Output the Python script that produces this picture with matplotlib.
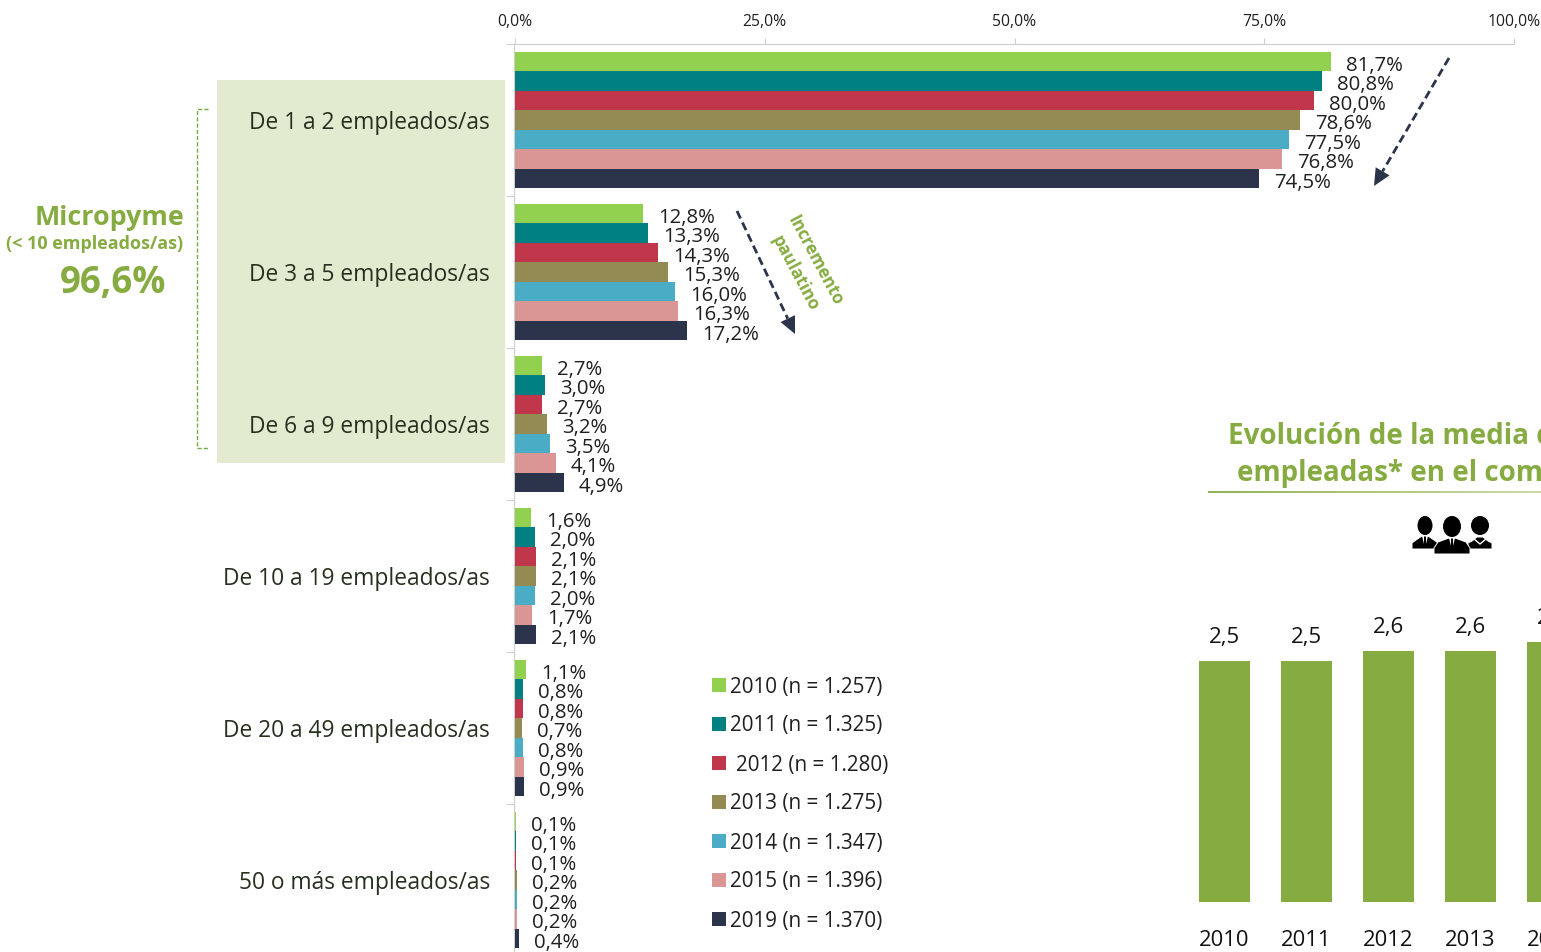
import matplotlib
matplotlib.use("Agg")
import matplotlib.pyplot as plt
from matplotlib.patches import Rectangle, Ellipse, Polygon
from matplotlib.collections import LineCollection
from matplotlib.colors import to_rgb
import numpy as np

plt.rcParams['font.family'] = ['Open Sans', 'DejaVu Sans']

W, H = 1541, 952
categories = ["De 1 a 2 empleados/as", "De 3 a 5 empleados/as", "De 6 a 9 empleados/as",
              "De 10 a 19 empleados/as", "De 20 a 49 empleados/as", "50 o más empleados/as"]
years = ["2010", "2011", "2012", "2013", "2014", "2015", "2019"]
sample_labels = ["2010 (n = 1.257)", "2011 (n = 1.325)", "2012 (n = 1.280)", "2013 (n = 1.275)",
                 "2014 (n = 1.347)", "2015 (n = 1.396)", "2019 (n = 1.370)"]
v2010 = [81.7, 12.8, 2.7, 1.6, 1.1, 0.1]
v2011 = [80.8, 13.3, 3.0, 2.0, 0.8, 0.1]
v2012 = [80.0, 14.3, 2.7, 2.1, 0.8, 0.1]
v2013 = [78.6, 15.3, 3.2, 2.1, 0.7, 0.2]
v2014 = [77.5, 16.0, 3.5, 2.0, 0.8, 0.2]
v2015 = [76.8, 16.3, 4.1, 1.7, 0.9, 0.2]
v2019 = [74.5, 17.2, 4.9, 2.1, 0.9, 0.4]
series = [v2010, v2011, v2012, v2013, v2014, v2015, v2019]
colors = ["#92D050", "#008080", "#C0364B", "#948A54", "#4BACC6", "#D99694", "#2B344A"]
mean_years = ["2010", "2011", "2012", "2013", "2014"]
mean_values = [2.5, 2.5, 2.6, 2.6, 2.7]

GREEN = "#86AC41"
TEXT = "#1F1F1F"

fig = plt.figure(figsize=(W / 100, H / 100), dpi=100, facecolor="white")

def axes_px(x0, y0, x1, y1, **kw):
    return fig.add_axes([x0 / W, 1 - y1 / H, (x1 - x0) / W, (y1 - y0) / H], **kw)

# pixel-space overlay for annotations
ov = axes_px(0, 0, W, H, zorder=0)
ov.set_xlim(0, W); ov.set_ylim(H, 0); ov.axis("off")

# main chart
ax = axes_px(515, 44, 1514, H, zorder=1)
ax.patch.set_visible(False)
ax.spines["left"].set_position(("outward", 0.5))
band = 152.0
step = 19.55 / band
for j, (vals, c) in enumerate(zip(series, colors)):
    ys = np.arange(len(categories)) + 0.5 + (j - 3) * step
    ax.barh(ys, vals, height=step, color=c, linewidth=0, zorder=3)
    for y, v in zip(ys, vals):
        ax.annotate(f"{v:.1f}%".replace(".", ","), (v, y), xytext=(10.9, -3),
                    textcoords="offset points", va="center", ha="left",
                    fontsize=14.7, color=TEXT, annotation_clip=False)

ax.xaxis.tick_top()
ax.set_xticks([0, 25, 50, 75, 100])
ax.set_xticklabels(["0,0%", "25,0%", "50,0%", "75,0%", "100,0%"], fontsize=11.3, color=TEXT)
ax.tick_params(axis="x", length=4, color="#CFCFCF", pad=6.3)
ax.set_yticks(np.arange(0, 6))
ax.set_yticklabels([])
ax.tick_params(axis="y", which="major", length=6, color="#CFCFCF")
ax.set_yticks(np.arange(len(categories)) + 0.5, minor=True)
ax.set_yticklabels(categories, minor=True, fontsize=16.4, color="#27301F")
ax.tick_params(axis="y", which="minor", length=0, pad=17.5)
ax.set_xlim(0, 100)
ax.set_ylim((H - 44) / band, 0)
for s in ("right", "bottom"):
    ax.spines[s].set_visible(False)
for s in ("left", "top"):
    ax.spines[s].set_color("#CFCFCF")

# micropyme highlight
ov.add_patch(Rectangle((217, 80), 288, 383, facecolor="#E2EACF", edgecolor="none"))
ov.plot([208, 197, 197, 209], [109, 109, 448, 448], color="#70AD47", lw=1, ls=(0, (3, 1.5)))
ov.text(184, 215, "Micropyme", ha="right", va="center_baseline", fontsize=19.4, fontweight="bold", color=GREEN)
ov.text(183, 242, "(< 10 empleados/as)", ha="right", va="center_baseline", fontsize=13, fontweight="bold", color=GREEN)
ov.text(113, 278, "96,6%", ha="center", va="center_baseline", fontsize=26.5, fontweight="bold", color=GREEN)

# trend arrows
def trend_arrow(start, tip, head_len=17, head_w=16):
    a, b = np.array(start, float), np.array(tip, float)
    d = (b - a) / np.hypot(*(b - a))
    n = np.array([-d[1], d[0]])
    base = b - d * head_len
    ov.plot([a[0], base[0]], [a[1], base[1]], color="#2B344A", lw=2, ls=(0, (3, 1.6)))
    ov.add_patch(Polygon([b, base + n * head_w / 2, base - n * head_w / 2], facecolor="#2B344A", edgecolor="none"))
trend_arrow((1449, 58), (1374, 186))
trend_arrow((737, 211), (795, 334))
ov.text(815, 261, "Incremento", rotation=-62, rotation_mode="anchor", ha="center", va="center",
        fontsize=12.3, fontweight="bold", color=GREEN)
ov.text(795, 273, "paulatino", rotation=-62, rotation_mode="anchor", ha="center", va="center",
        fontsize=12.3, fontweight="bold", color=GREEN)

# legend
leg_x = [730, 730, 736, 730, 730, 730, 730]
for i, (lab, c) in enumerate(zip(sample_labels, colors)):
    y = 685 + 39 * i
    ov.add_patch(Rectangle((712, y - 7), 14, 14, facecolor=c, edgecolor="none"))
    ov.text(leg_x[i], y + 2, lab, ha="left", va="center", fontsize=14.9, color=TEXT)

# right-hand chart
ov.text(1228, 433, "Evolución de la media de personas", ha="left", va="center_baseline", fontsize=20,
        fontweight="bold", color=GREEN)
ov.text(1237, 470, "empleadas* en el comercio", ha="left", va="center_baseline", fontsize=20,
        fontweight="bold", color=GREEN)
xs = np.linspace(1208, 1541, 40)
c0, c1 = np.array(to_rgb(GREEN)), np.array(to_rgb("#C5D6A3"))
segs = [[(a, 492), (b, 492)] for a, b in zip(xs[:-1], xs[1:])]
cols = [c0 + (c1 - c0) * t for t in np.linspace(0, 1, len(segs))]
ov.add_collection(LineCollection(segs, colors=cols, linewidths=1.3))

# people icon
def person(x0, x1, hy0, hy1, top, bot, hw, female=False):
    cx = (x0 + x1) / 2
    ov.add_patch(Polygon([(x0, bot), (x0, bot - 6), (x0 + 4, top + 4), (cx - 3, top), (cx + 3, top),
                          (x1 - 4, top + 4), (x1, bot - 6), (x1, bot)],
                         closed=True, facecolor="black", edgecolor="white", lw=0.7, joinstyle="round"))
    ov.add_patch(Ellipse((cx, (hy0 + hy1) / 2), hw, hy1 - hy0, facecolor="black", edgecolor="none"))
    if female:
        ov.plot([cx - 6, cx, cx + 6], [top + 2, top + 7, top + 2], color="white", lw=1)
    else:
        ov.add_patch(Polygon([(cx - 3, top), (cx - 1, top), (cx - 1, top + 8)], facecolor="white", edgecolor="none"))
        ov.add_patch(Polygon([(cx + 3, top), (cx + 1, top), (cx + 1, top + 8)], facecolor="white", edgecolor="none"))
person(1412, 1438, 516, 535, 536, 549, 15)
person(1468, 1492, 516, 535, 537, 549, 18, female=True)
person(1434, 1470, 516, 537, 538, 554, 18)

# mean bars
bx = axes_px(1183.5, 600, 1183.5 + 82 * len(mean_years), 902, zorder=1)
bx.patch.set_visible(False)
pos = np.arange(len(mean_years))
bx.bar(pos, mean_values, width=51 / 82, color=GREEN, linewidth=0)
bx.set_xlim(-0.5, len(mean_years) - 0.5)
bx.set_ylim(0, 302 / 96.4)
for p, v in zip(pos, mean_values):
    bx.annotate(f"{v:.1f}".replace(".", ","), (p, v), xytext=(0, 17), textcoords="offset points",
                ha="center", va="center", fontsize=16, color="#111111")
bx.set_xticks(pos)
bx.set_xticklabels(mean_years, fontsize=15.8, color="#111111")
bx.tick_params(axis="x", length=0, pad=20)
bx.set_yticks([])
for s in bx.spines.values():
    s.set_visible(False)

fig.savefig("out.png", dpi=100)
